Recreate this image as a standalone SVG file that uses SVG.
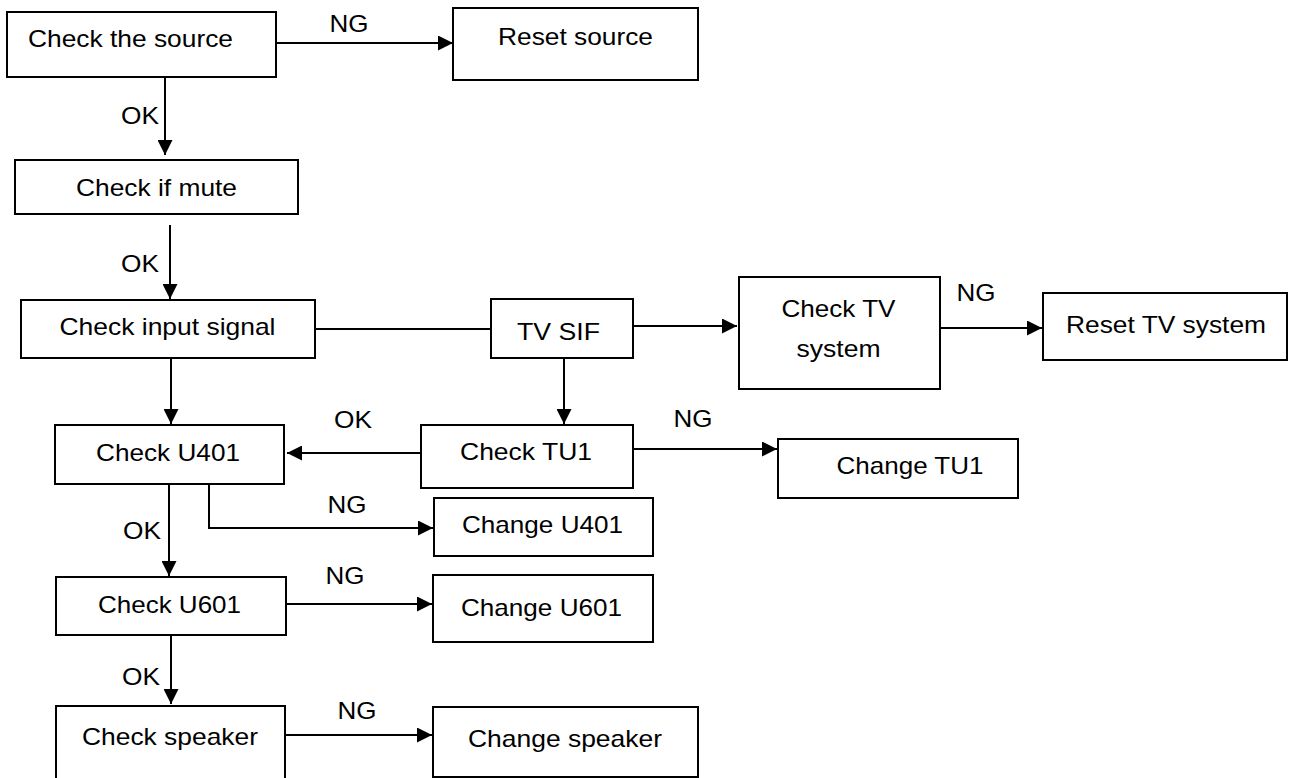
<svg xmlns="http://www.w3.org/2000/svg" width="1291" height="778" viewBox="0 0 1291 778">
<style>
.box{fill:#fff;stroke:#000;stroke-width:2}
.t{font-family:"Liberation Sans",Arial,sans-serif;font-size:24px;fill:#000;text-anchor:middle}
.c{fill:none;stroke:#000;stroke-width:2}
</style>
<defs>
<marker id="ah" markerUnits="userSpaceOnUse" markerWidth="15" markerHeight="15" refX="15" refY="7.5" orient="auto">
<path d="M0,0 L15,7.5 L0,15 z" fill="#000"/>
</marker>
</defs>
<rect width="1291" height="778" fill="#fff"/>
<g id="connectors">
<line class="c" x1="276" y1="43" x2="453" y2="43" marker-end="url(#ah)"/>
<line class="c" x1="165" y1="77" x2="165" y2="155" marker-end="url(#ah)"/>
<line class="c" x1="170" y1="225" x2="170" y2="299" marker-end="url(#ah)"/>
<line class="c" x1="315" y1="329" x2="491" y2="329"/>
<line class="c" x1="633" y1="326" x2="737" y2="326" marker-end="url(#ah)"/>
<line class="c" x1="940" y1="328" x2="1042" y2="328" marker-end="url(#ah)"/>
<line class="c" x1="564" y1="358" x2="564" y2="424" marker-end="url(#ah)"/>
<line class="c" x1="633" y1="449" x2="777" y2="449" marker-end="url(#ah)"/>
<line class="c" x1="421" y1="453" x2="287" y2="453" marker-end="url(#ah)"/>
<line class="c" x1="171" y1="358" x2="171" y2="424" marker-end="url(#ah)"/>
<line class="c" x1="169" y1="484" x2="169" y2="576" marker-end="url(#ah)"/>
<polyline class="c" points="209,483 209,528 433,528" marker-end="url(#ah)"/>
<line class="c" x1="286" y1="604" x2="432" y2="604" marker-end="url(#ah)"/>
<line class="c" x1="171" y1="635" x2="171" y2="704" marker-end="url(#ah)"/>
<line class="c" x1="285" y1="735" x2="432" y2="735" marker-end="url(#ah)"/>
<text class="t" x="349" y="32" textLength="39" lengthAdjust="spacingAndGlyphs">NG</text>
<text class="t" x="140" y="124" textLength="38" lengthAdjust="spacingAndGlyphs">OK</text>
<text class="t" x="140" y="272" textLength="38" lengthAdjust="spacingAndGlyphs">OK</text>
<text class="t" x="976" y="301" textLength="39" lengthAdjust="spacingAndGlyphs">NG</text>
<text class="t" x="353" y="428" textLength="38" lengthAdjust="spacingAndGlyphs">OK</text>
<text class="t" x="693" y="427" textLength="39" lengthAdjust="spacingAndGlyphs">NG</text>
<text class="t" x="347" y="513" textLength="39" lengthAdjust="spacingAndGlyphs">NG</text>
<text class="t" x="142" y="539" textLength="38" lengthAdjust="spacingAndGlyphs">OK</text>
<text class="t" x="345" y="584" textLength="39" lengthAdjust="spacingAndGlyphs">NG</text>
<text class="t" x="141" y="685" textLength="38" lengthAdjust="spacingAndGlyphs">OK</text>
<text class="t" x="357" y="719" textLength="39" lengthAdjust="spacingAndGlyphs">NG</text>
</g>
<g id="n-check-source"><rect class="box" x="7" y="12" width="269" height="65"/><text class="t" x="130.5" y="47" textLength="205" lengthAdjust="spacingAndGlyphs">Check the source</text></g>
<g id="n-reset-source"><rect class="box" x="453" y="8" width="245" height="72"/><text class="t" x="575.5" y="45" textLength="155" lengthAdjust="spacingAndGlyphs">Reset source</text></g>
<g id="n-check-mute"><rect class="box" x="15" y="160" width="283" height="54"/><text class="t" x="156.5" y="196" textLength="161" lengthAdjust="spacingAndGlyphs">Check if mute</text></g>
<g id="n-check-input"><rect class="box" x="21" y="300" width="294" height="58"/><text class="t" x="167.5" y="335" textLength="216" lengthAdjust="spacingAndGlyphs">Check input signal</text></g>
<g id="n-tv-sif"><rect class="box" x="491" y="299" width="142" height="59"/><text class="t" x="558.5" y="340" textLength="83" lengthAdjust="spacingAndGlyphs">TV SIF</text></g>
<g id="n-check-tv-system"><rect class="box" x="739" y="277" width="201" height="112"/><text class="t" x="838.5" y="317" textLength="114" lengthAdjust="spacingAndGlyphs">Check TV</text><text class="t" x="838.5" y="357" textLength="84" lengthAdjust="spacingAndGlyphs">system</text></g>
<g id="n-reset-tv-system"><rect class="box" x="1043" y="293" width="244" height="67"/><text class="t" x="1166" y="333" textLength="200" lengthAdjust="spacingAndGlyphs">Reset TV system</text></g>
<g id="n-check-tu1"><rect class="box" x="421" y="425" width="212" height="63"/><text class="t" x="526" y="460" textLength="132" lengthAdjust="spacingAndGlyphs">Check TU1</text></g>
<g id="n-change-tu1"><rect class="box" x="778" y="439" width="240" height="59"/><text class="t" x="910" y="474" textLength="147" lengthAdjust="spacingAndGlyphs">Change TU1</text></g>
<g id="n-check-u401"><rect class="box" x="55" y="425" width="229" height="59"/><text class="t" x="168" y="461" textLength="144" lengthAdjust="spacingAndGlyphs">Check U401</text></g>
<g id="n-change-u401"><rect class="box" x="434" y="498" width="219" height="58"/><text class="t" x="542.5" y="533" textLength="161" lengthAdjust="spacingAndGlyphs">Change U401</text></g>
<g id="n-check-u601"><rect class="box" x="56" y="577" width="230" height="58"/><text class="t" x="169.5" y="613" textLength="143" lengthAdjust="spacingAndGlyphs">Check U601</text></g>
<g id="n-change-u601"><rect class="box" x="433" y="575" width="220" height="67"/><text class="t" x="541.5" y="616" textLength="161" lengthAdjust="spacingAndGlyphs">Change U601</text></g>
<g id="n-check-speaker"><rect class="box" x="56" y="706" width="229" height="90"/><text class="t" x="170" y="745" textLength="176" lengthAdjust="spacingAndGlyphs">Check speaker</text></g>
<g id="n-change-speaker"><rect class="box" x="433" y="707" width="265" height="70"/><text class="t" x="565" y="747" textLength="194" lengthAdjust="spacingAndGlyphs">Change speaker</text></g>
</svg>
